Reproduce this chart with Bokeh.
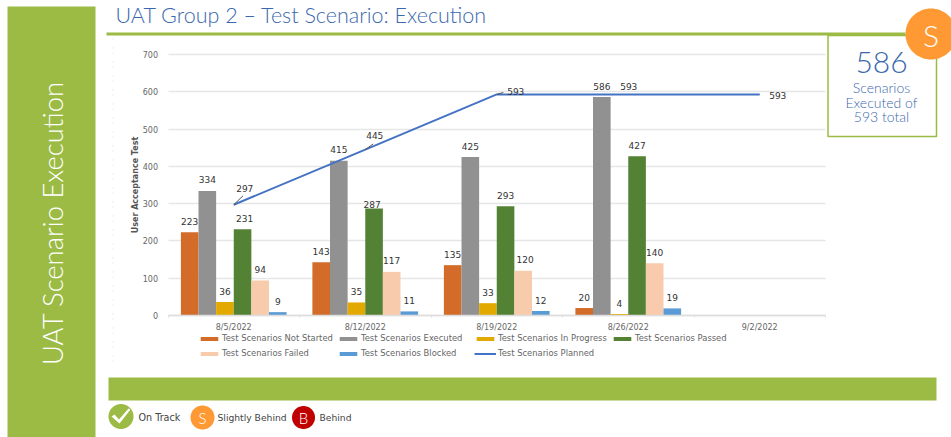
import math
from bokeh.embed import file_html
from bokeh.resources import INLINE
from bokeh.plotting import figure
from bokeh.models import (ColumnDataSource, Legend, LegendItem, Label, BoxAnnotation,
                          PolyAnnotation, FixedTicker, Range1d)
from bokeh.core.properties import value

# ---- data ----
dates = ["8/5/2022", "8/12/2022", "8/19/2022", "8/26/2022", "9/2/2022"]
not_started = [223, 143, 135, 20]
executed = [334, 415, 425, 586]
in_progress = [36, 35, 33, 4]
passed = [231, 287, 293, 427]
failed = [94, 117, 120, 140]
blocked = [9, 11, 12, 19]
planned = [297, 445, 593, 593, 593]
y_ticks = [0, 100, 200, 300, 400, 500, 600, 700]

series_names = ["Test Scenarios Not Started", "Test Scenarios Executed", "Test Scenarios In Progress",
                "Test Scenarios Passed", "Test Scenarios Failed", "Test Scenarios Blocked"]
series_values = [not_started, executed, in_progress, passed, failed, blocked]
series_colors = ["#d26c28", "#919191", "#e2a900", "#548235", "#f8cbad", "#5b9bd5"]

title_text = "UAT Group 2 – Test Scenario: Execution"
side_text = "UAT Scenario Execution"

W, H = 951, 437
GREEN = "#9bbb45"
BLUE = "#3a68ad"
FONT = "DejaVu Sans"
LIGHT = "Lato Light"

# plot area, in page pixels: the frame fills the page, the axes are pinned inside it
X0, X1, Y0, Y700 = 167.5, 825.0, 315.0, 54.0
ux = (X1 - X0) / 5
uy = (Y0 - Y700) / 700

p = figure(width=W, height=H, output_backend="svg", toolbar_location=None,
           x_range=Range1d(-X0 / ux, (W - X0) / ux),
           y_range=Range1d(-(H - Y0) / uy, Y0 / uy),
           min_border=0, outline_line_color=None,
           background_fill_color="white", border_fill_color="white")

# axes
p.xaxis.fixed_location = 0
p.xaxis.bounds = (0, 5)
p.xaxis.ticker = FixedTicker(ticks=[i + 0.5 for i in range(5)], minor_ticks=list(range(6)))
p.xaxis.major_label_overrides = {i + 0.5: d for i, d in enumerate(dates)}
p.xaxis.major_tick_line_color = None
p.xaxis.minor_tick_line_color = "#dddddd"
p.xaxis.minor_tick_in = 0
p.xaxis.minor_tick_out = 2
p.xaxis.axis_line_color = "#dddddd"
p.xaxis.axis_line_width = 1.5
p.xaxis.major_label_text_font = FONT
p.xaxis.major_label_text_font_size = "8px"
p.xaxis.major_label_text_color = "#666666"
p.xaxis.major_label_standoff = 1
p.xgrid.visible = False

p.yaxis.fixed_location = 0
p.yaxis.bounds = (0, 700)
p.yaxis.ticker = FixedTicker(ticks=y_ticks)
p.yaxis.axis_line_color = None
p.yaxis.major_tick_line_color = None
p.yaxis.minor_tick_line_color = None
p.yaxis.major_label_text_font = FONT
p.yaxis.major_label_text_font_size = "8px"
p.yaxis.major_label_text_color = "#666666"
p.yaxis.major_label_standoff = 4
p.yaxis.axis_label = "User Acceptance Test"
p.yaxis.axis_label_text_font = FONT
p.yaxis.axis_label_text_font_size = "8px"
p.yaxis.axis_label_text_font_style = "bold"
p.yaxis.axis_label_text_color = "#555555"
p.yaxis.axis_label_standoff = 0
p.ygrid.ticker = FixedTicker(ticks=y_ticks)
p.ygrid.cross_bounds = (0, 5)
p.ygrid.grid_line_color = "#e6e6e6"
p.ygrid.grid_line_width = 1.5

# bars
BAR = 0.134
renderers = {}
lx, ly, lt, ldx, ldy = [], [], [], [], []
bar_label_dx = {231: 2, 287: -2, 120: 2}
bar_label_dy = {287: 4}
for s, (name, vals, col) in enumerate(zip(series_names, series_values, series_colors)):
    off = (s - 2.5) * BAR
    xs = [i + 0.5 + off for i in range(len(vals))]
    renderers[name] = p.vbar(x=xs, top=vals, width=BAR, color=col, line_color=None)
    for x, v in zip(xs, vals):
        lx.append(x); ly.append(v); lt.append(str(v))
        ldx.append(bar_label_dx.get(v, 0)); ldy.append(-bar_label_dy.get(v, 11))

# planned line
line_x = [i + 0.5 for i in range(len(planned))]
renderers["Test Scenarios Planned"] = p.line(line_x, planned, line_color="#4472c4", line_width=2)
for x, v, dx, dy in zip(line_x, planned, [11, 9.5, 19, 0.5, 18], [-16, -14.5, -3, -8, 1]):
    lx.append(x); ly.append(v); lt.append(str(v)); ldx.append(dx); ldy.append(dy)

# leader lines of the three shifted line labels
p.segment(x0=line_x[:3], y0=planned[:3],
          x1=[line_x[0] + 0.07, line_x[1] + 0.06, line_x[2] + 0.05],
          y1=[planned[0] + 24, planned[1] + 15, planned[2] + 5],
          line_color="#555555", line_width=1)

p.text(x="x", y="y", text="t", x_offset="dx", y_offset="dy",
       source=ColumnDataSource(dict(x=lx, y=ly, t=lt, dx=ldx, dy=ldy)),
       text_font=value(FONT), text_font_size="9px", text_color="#333333",
       text_align="center", text_baseline="middle")

# the legend's columns are evenly spaced, so each column is its own legend
legend_cols = [
    (198, 79, ["Test Scenarios Not Started", "Test Scenarios Failed"]),
    (337, 79, ["Test Scenarios Executed", "Test Scenarios Blocked"]),
    (474, 79, ["Test Scenarios In Progress", "Test Scenarios Planned"]),
    (611, 94, ["Test Scenarios Passed"]),
]
for lgx, lgy, names in legend_cols:
    p.add_layout(Legend(items=[LegendItem(label=n, renderers=[renderers[n]]) for n in names],
                        location=(lgx, lgy),
                        label_text_font=FONT, label_text_font_size="8.4px", label_text_color="#666666",
                        glyph_width=22, glyph_height=5, label_height=8, label_standoff=2,
                        spacing=5, padding=0, margin=0,
                        background_fill_alpha=0, border_line_alpha=0), "center")


# ---- page furniture, in page pixels ----
def sy(y):
    return H - y


def box(x0, y0, x1, y1, fill=None, line=None, lw=1, dash="solid"):
    p.add_layout(BoxAnnotation(left=x0, right=x1, top=sy(y0), bottom=sy(y1),
                               left_units="screen", right_units="screen",
                               top_units="screen", bottom_units="screen",
                               fill_color=fill or "white", fill_alpha=1 if fill else 0,
                               line_color=line or "white", line_alpha=1 if line else 0,
                               line_width=lw, line_dash=dash, editable=False))


def poly(px, py, fill):
    p.add_layout(PolyAnnotation(xs=list(px), ys=[sy(v) for v in py],
                                xs_units="screen", ys_units="screen",
                                fill_color=fill, fill_alpha=1, line_color=None, editable=False))


def disc(cx, cy, r, fill):
    n = 72
    poly([cx + r * math.cos(2 * math.pi * k / n) for k in range(n)],
         [cy + r * math.sin(2 * math.pi * k / n) for k in range(n)], fill)


def text(x, y, s, size, color, font=LIGHT, align="center", angle=0):
    p.add_layout(Label(x=x, y=sy(y), x_units="screen", y_units="screen", text=s,
                       text_font=font, text_font_size=f"{size}px", text_color=color,
                       text_align=align, text_baseline="middle", angle=angle))


box(7, 6, 95, 437, fill=GREEN)
text(52, 222.5, side_text, 27.4, "white", angle=math.pi / 2)
text(115, 14, title_text, 21.5, BLUE, align="left")
box(106, 32, 905, 35, fill=GREEN)
box(827.5, 35, 936, 136, line=GREEN, lw=1.5)
text(881, 62, "586", 30, BLUE)
text(881, 87, "Scenarios", 14, BLUE)
text(881, 102, "Executed of", 14, BLUE)
text(881, 116, "593 total", 14, BLUE)
disc(930.5, 33.5, 25.5, "#ff9933")
text(930.5, 34, "S", 30, "white")
box(108, 377, 936, 400, fill=GREEN)
box(112.5, 38, 112.5, 365, line="#dddddd", dash="1 13")

disc(120.5, 416, 12.5, GREEN)
poly([111, 114, 118.5, 128, 130, 119], [416, 414, 419, 408, 409, 423], "white")
text(138, 417, "On Track", 9.6, "#444444", font=FONT, align="left")
disc(202, 417, 12, "#ff9933")
text(202, 417, "S", 15, "white")
text(217, 417, "Slightly Behind", 9.2, "#444444", font=FONT, align="left")
disc(303, 417, 11.5, "#c00000")
text(303, 417, "B", 15, "white")
text(319, 417, "Behind", 9.2, "#444444", font=FONT, align="left")

open("out.html", "w").write(file_html(p, INLINE))
